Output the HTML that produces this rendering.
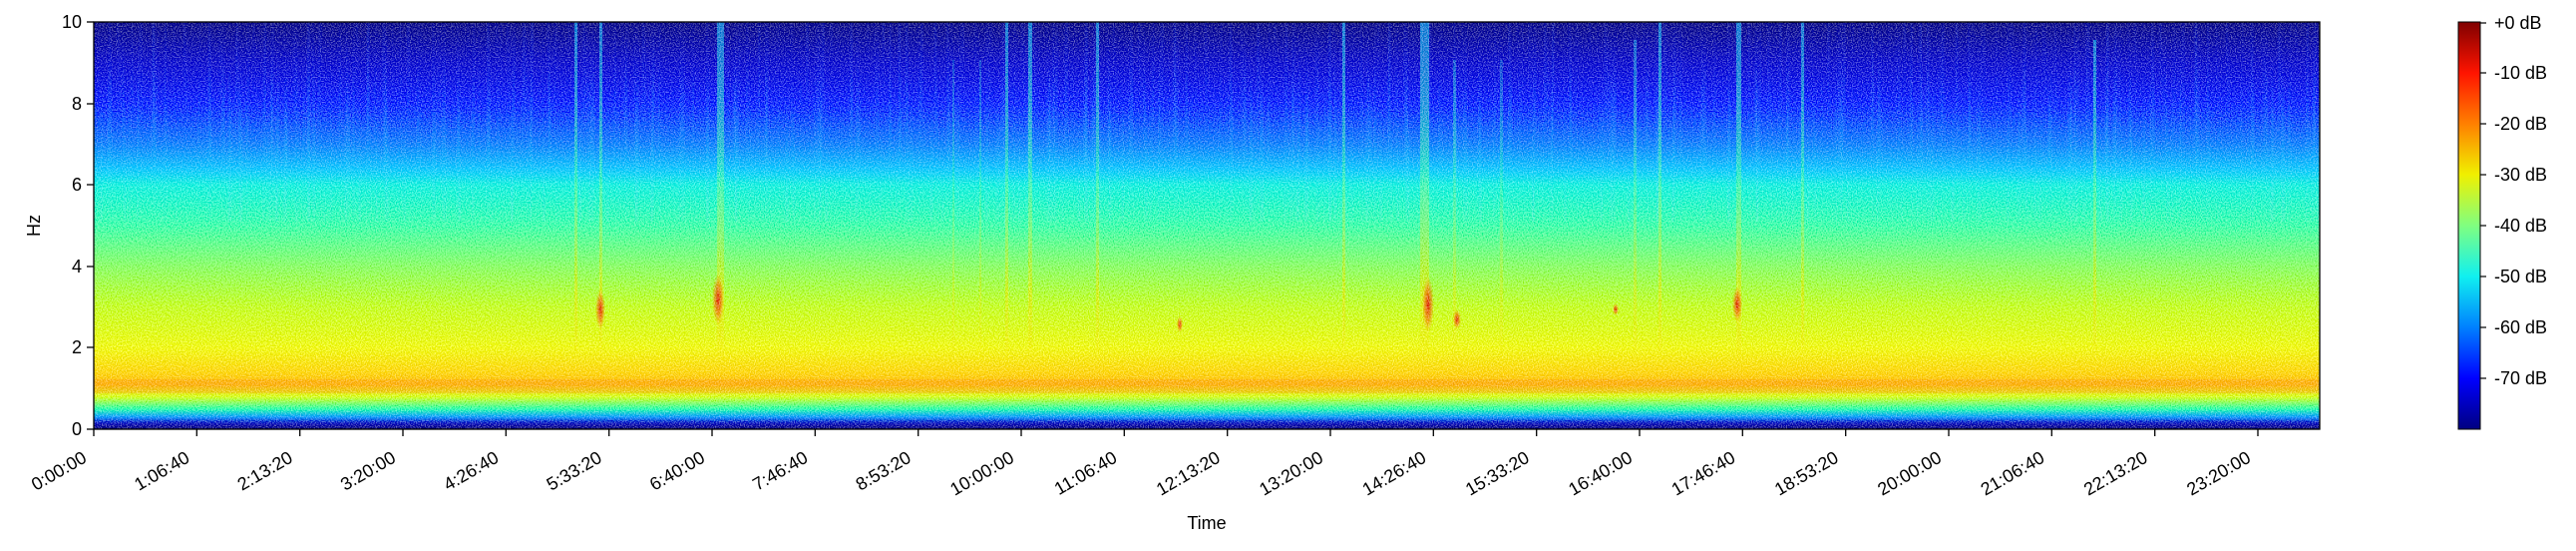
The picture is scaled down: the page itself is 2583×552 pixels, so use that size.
<!DOCTYPE html>
<html><head><meta charset="utf-8"><style>
html,body{margin:0;padding:0;background:#fff;}
svg{display:block;font-family:"Liberation Sans","DejaVu Sans",sans-serif;}
</style></head><body>
<svg width="2583" height="552" viewBox="0 0 2583 552" xmlns="http://www.w3.org/2000/svg">
<defs>
<linearGradient id="spec" x1="0" y1="22" x2="0" y2="430" gradientUnits="userSpaceOnUse">
<stop offset="0" stop-color="#000090"/>
<stop offset="0.10" stop-color="#0008d0"/>
<stop offset="0.20" stop-color="#0038ff"/>
<stop offset="0.30" stop-color="#0088ff"/>
<stop offset="0.36" stop-color="#00c8ff"/>
<stop offset="0.40" stop-color="#20f0e0"/>
<stop offset="0.50" stop-color="#50ffb0"/>
<stop offset="0.60" stop-color="#90ff70"/>
<stop offset="0.70" stop-color="#c8ff38"/>
<stop offset="0.80" stop-color="#f0f818"/>
<stop offset="0.86" stop-color="#ffd800"/>
<stop offset="0.89" stop-color="#ffc000"/>
<stop offset="0.92" stop-color="#d8ff30"/>
<stop offset="0.95" stop-color="#40ffb0"/>
<stop offset="0.97" stop-color="#00a0ff"/>
<stop offset="0.99" stop-color="#0000b0"/>
<stop offset="1" stop-color="#000080"/>
</linearGradient>
<linearGradient id="cb" x1="0" y1="22" x2="0" y2="430" gradientUnits="userSpaceOnUse">
<stop offset="0" stop-color="#800000"/>
<stop offset="0.125" stop-color="#ff1400"/>
<stop offset="0.25" stop-color="#ff8000"/>
<stop offset="0.375" stop-color="#f0f000"/>
<stop offset="0.5" stop-color="#80ff80"/>
<stop offset="0.625" stop-color="#10f0f0"/>
<stop offset="0.75" stop-color="#0080ff"/>
<stop offset="0.875" stop-color="#0000ff"/>
<stop offset="1" stop-color="#000080"/>
</linearGradient>
<linearGradient id="streak" x1="0" y1="22" x2="0" y2="360" gradientUnits="userSpaceOnUse">
<stop offset="0" stop-color="#40d0ff" stop-opacity="0.65"/>
<stop offset="0.45" stop-color="#80ffa0" stop-opacity="0.5"/>
<stop offset="0.8" stop-color="#ffe000" stop-opacity="0.45"/>
<stop offset="1" stop-color="#ffc000" stop-opacity="0"/>
</linearGradient>
<radialGradient id="blob">
<stop offset="0" stop-color="#e01000" stop-opacity="0.8"/>
<stop offset="0.6" stop-color="#ff5000" stop-opacity="0.45"/>
<stop offset="1" stop-color="#ff9000" stop-opacity="0"/>
</radialGradient>
<filter id="noise" x="0" y="0" width="100%" height="100%">
<feTurbulence type="fractalNoise" baseFrequency="0.8" numOctaves="1" seed="3" result="n"/>
<feColorMatrix in="n" type="matrix" values="0 0 0 1 0  0 0 0 1 0  0 0 0 1 0  0 0 0 0 1" result="g"/>
<feComposite in="SourceGraphic" in2="g" operator="arithmetic" k1="0" k2="1" k3="0.6" k4="-0.3"/>
</filter>
<filter id="vnoise" x="0" y="0" width="100%" height="100%">
<feTurbulence type="fractalNoise" baseFrequency="0.25 0.004" numOctaves="2" seed="7" result="n"/>
<feColorMatrix in="n" type="matrix" values="0 0 0 0 0.3  0 0 0 0 0.7  0 0 0 0 1  2.2 0 0 0 -1.1"/>
</filter>
</defs>

<g filter="url(#noise)">
<rect x="94" y="22" width="2232" height="408" fill="url(#spec)"/>
<rect x="94" y="22" width="2232" height="200" fill="#fff" filter="url(#vnoise)" opacity="0.35"/>
<g fill="url(#streak)">
<rect x="576" y="22" width="3" height="330"/>
<rect x="601" y="22" width="3" height="340"/>
<rect x="719" y="22" width="7" height="340"/>
<rect x="955" y="60" width="2" height="300" opacity="0.6"/>
<rect x="982" y="60" width="2" height="300" opacity="0.6"/>
<rect x="1008" y="22" width="3" height="330"/>
<rect x="1031" y="22" width="4" height="330"/>
<rect x="1099" y="22" width="3" height="330"/>
<rect x="1346" y="22" width="3" height="330"/>
<rect x="1424" y="22" width="9" height="350"/>
<rect x="1457" y="60" width="3" height="300" opacity="0.7"/>
<rect x="1504" y="60" width="3" height="300" opacity="0.6"/>
<rect x="1638" y="40" width="3" height="310" opacity="0.8"/>
<rect x="1663" y="22" width="3" height="330"/>
<rect x="1741" y="22" width="5" height="340"/>
<rect x="1806" y="22" width="3" height="330"/>
<rect x="2099" y="40" width="3" height="320"/>
</g>
<g fill="url(#blob)">
<ellipse cx="602" cy="310" rx="5" ry="20"/>
<ellipse cx="720" cy="300" rx="6" ry="26"/>
<ellipse cx="1432" cy="305" rx="6" ry="28"/>
<ellipse cx="1461" cy="320" rx="4" ry="10"/>
<ellipse cx="1742" cy="305" rx="5" ry="18"/>
<ellipse cx="1183" cy="325" rx="3" ry="8"/>
<ellipse cx="1620" cy="310" rx="3" ry="6"/>
</g>
<rect x="94" y="380" width="2232" height="14" fill="#ff8000" opacity="0.2"/>
</g>
<rect x="94" y="22" width="2232" height="408" fill="none" stroke="#000" stroke-width="1.3"/>

<g stroke="#000" stroke-width="1.3">
<line x1="87" y1="22" x2="94" y2="22"/><line x1="87" y1="104" x2="94" y2="104"/>
<line x1="87" y1="185" x2="94" y2="185"/><line x1="87" y1="267" x2="94" y2="267"/>
<line x1="87" y1="348" x2="94" y2="348"/><line x1="87" y1="430" x2="94" y2="430"/>
</g>
<g font-size="18" text-anchor="end" fill="#000">
<text x="82" y="28">10</text><text x="82" y="110">8</text><text x="82" y="191">6</text>
<text x="82" y="273">4</text><text x="82" y="354">2</text><text x="82" y="436">0</text>
</g>
<text x="40" y="226" font-size="18" text-anchor="middle" transform="rotate(-90 40 226)">Hz</text>

<g stroke="#000" stroke-width="1.3">
<line x1="94" y1="430" x2="94" y2="437"/><line x1="197.3" y1="430" x2="197.3" y2="437"/><line x1="300.7" y1="430" x2="300.7" y2="437"/><line x1="404" y1="430" x2="404" y2="437"/><line x1="507.3" y1="430" x2="507.3" y2="437"/><line x1="610.7" y1="430" x2="610.7" y2="437"/><line x1="714" y1="430" x2="714" y2="437"/><line x1="817.3" y1="430" x2="817.3" y2="437"/><line x1="920.7" y1="430" x2="920.7" y2="437"/><line x1="1024" y1="430" x2="1024" y2="437"/><line x1="1127.3" y1="430" x2="1127.3" y2="437"/><line x1="1230.7" y1="430" x2="1230.7" y2="437"/><line x1="1334" y1="430" x2="1334" y2="437"/><line x1="1437.3" y1="430" x2="1437.3" y2="437"/><line x1="1540.7" y1="430" x2="1540.7" y2="437"/><line x1="1644" y1="430" x2="1644" y2="437"/><line x1="1747.3" y1="430" x2="1747.3" y2="437"/><line x1="1850.7" y1="430" x2="1850.7" y2="437"/><line x1="1954" y1="430" x2="1954" y2="437"/><line x1="2057.3" y1="430" x2="2057.3" y2="437"/><line x1="2160.7" y1="430" x2="2160.7" y2="437"/><line x1="2264" y1="430" x2="2264" y2="437"/>
</g>
<g font-size="18" text-anchor="end" fill="#000">
<text transform="translate(88,462) rotate(-30)">0:00:00</text>
<text transform="translate(191.3,462) rotate(-30)">1:06:40</text>
<text transform="translate(294.7,462) rotate(-30)">2:13:20</text>
<text transform="translate(398,462) rotate(-30)">3:20:00</text>
<text transform="translate(501.3,462) rotate(-30)">4:26:40</text>
<text transform="translate(604.7,462) rotate(-30)">5:33:20</text>
<text transform="translate(708,462) rotate(-30)">6:40:00</text>
<text transform="translate(811.3,462) rotate(-30)">7:46:40</text>
<text transform="translate(914.7,462) rotate(-30)">8:53:20</text>
<text transform="translate(1018,462) rotate(-30)">10:00:00</text>
<text transform="translate(1121.3,462) rotate(-30)">11:06:40</text>
<text transform="translate(1224.7,462) rotate(-30)">12:13:20</text>
<text transform="translate(1328,462) rotate(-30)">13:20:00</text>
<text transform="translate(1431.3,462) rotate(-30)">14:26:40</text>
<text transform="translate(1534.7,462) rotate(-30)">15:33:20</text>
<text transform="translate(1638,462) rotate(-30)">16:40:00</text>
<text transform="translate(1741.3,462) rotate(-30)">17:46:40</text>
<text transform="translate(1844.7,462) rotate(-30)">18:53:20</text>
<text transform="translate(1948,462) rotate(-30)">20:00:00</text>
<text transform="translate(2051.3,462) rotate(-30)">21:06:40</text>
<text transform="translate(2154.7,462) rotate(-30)">22:13:20</text>
<text transform="translate(2258,462) rotate(-30)">23:20:00</text>
</g>
<text x="1210" y="530" font-size="18" text-anchor="middle">Time</text>

<rect x="2465" y="22" width="22" height="408" fill="url(#cb)" stroke="#000" stroke-width="1"/>
<g stroke="#000" stroke-width="1.2">
<line x1="2487" y1="23" x2="2493" y2="23"/><line x1="2487" y1="73" x2="2493" y2="73"/><line x1="2487" y1="124" x2="2493" y2="124"/><line x1="2487" y1="175" x2="2493" y2="175"/><line x1="2487" y1="226" x2="2493" y2="226"/><line x1="2487" y1="277" x2="2493" y2="277"/><line x1="2487" y1="328" x2="2493" y2="328"/><line x1="2487" y1="379" x2="2493" y2="379"/>
</g>
<g font-size="18" fill="#000">
<text x="2501" y="29">+0 dB</text><text x="2501" y="79">-10 dB</text><text x="2501" y="130">-20 dB</text>
<text x="2501" y="181">-30 dB</text><text x="2501" y="232">-40 dB</text><text x="2501" y="283">-50 dB</text>
<text x="2501" y="334">-60 dB</text><text x="2501" y="385">-70 dB</text>
</g>
</svg>
</body></html>
